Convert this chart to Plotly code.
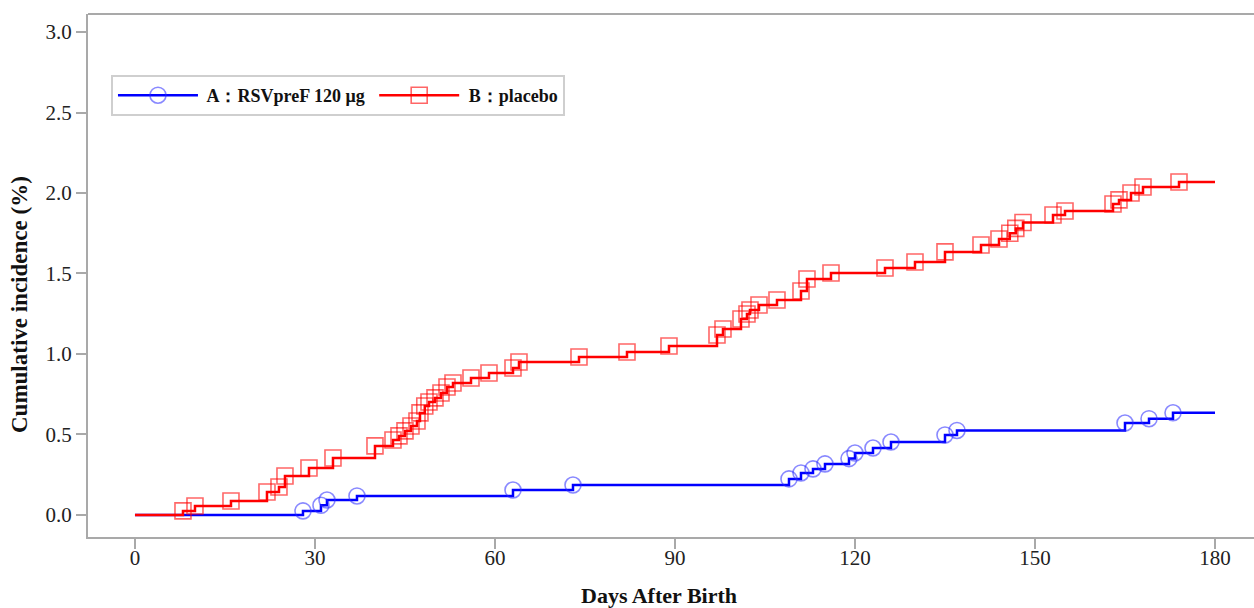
import plotly.graph_objects as go

# Event days and cumulative incidence (%)
a_days = [28, 31, 32, 37, 63, 73, 109, 111, 113, 115, 119, 120, 123, 126, 135, 137, 165, 169, 173]
a_inc = [0.025, 0.060, 0.093, 0.118, 0.155, 0.186, 0.224, 0.261, 0.286, 0.317, 0.350, 0.385,
         0.416, 0.453, 0.497, 0.525, 0.571, 0.598, 0.635]

b_days = [8, 10, 16, 22, 24, 25, 29, 33, 40, 43, 44, 45, 46, 47, 47.5, 48.3, 49, 50, 51, 52, 53,
          56, 59, 63, 64, 74, 82, 89, 97, 98, 101, 102, 102.5, 104, 107, 111, 112, 116, 125, 130,
          135, 141, 144, 145.8, 146.8, 148, 153, 155, 163, 164, 166, 168, 174]
b_inc = [0.025, 0.056, 0.087, 0.143, 0.174, 0.242, 0.292, 0.354, 0.429, 0.466, 0.491, 0.522,
         0.553, 0.584, 0.634, 0.677, 0.702, 0.727, 0.758, 0.795, 0.820, 0.851, 0.882, 0.913,
         0.950, 0.981, 1.012, 1.050, 1.118, 1.155, 1.217, 1.248, 1.273, 1.304, 1.335, 1.391,
         1.466, 1.503, 1.534, 1.571, 1.634, 1.677, 1.714, 1.750, 1.780, 1.817, 1.863, 1.888,
         1.932, 1.957, 2.000, 2.037, 2.068]

end_day = 180
x_ticks = [0, 30, 60, 90, 120, 150, 180]
y_ticks = [0.0, 0.5, 1.0, 1.5, 2.0, 2.5, 3.0]

name_a = " A：RSVpreF 120 μg "
name_b = " B：placebo"

BLUE = "#0000ff"
RED = "#ff0000"
BLUE_M = "rgba(40,40,255,0.55)"
RED_M = "rgba(255,0,0,0.6)"
FONT = "Liberation Serif, Times New Roman, serif"

fig = go.Figure()


def add_group(days, inc, line_col, mark_col, symbol, name):
    xs = [0] + days + [end_day]
    ys = [0] + inc + [inc[-1]]
    fig.add_trace(go.Scatter(x=xs, y=ys, mode="lines", line=dict(color=line_col, width=2.5, shape="hv"),
                             showlegend=False, hoverinfo="skip"))
    fig.add_trace(go.Scatter(x=days, y=inc, mode="markers",
                             marker=dict(symbol=symbol, size=16, color=mark_col, line=dict(width=1.6, color=mark_col)),
                             showlegend=False))
    fig.add_trace(go.Scatter(x=[None], y=[None], mode="lines+markers", name=name,
                             line=dict(color=line_col, width=2.5),
                             marker=dict(symbol=symbol, size=16, color=mark_col, line=dict(width=1.6, color=mark_col))))


add_group(a_days, a_inc, BLUE, BLUE_M, "circle-open", name_a)
add_group(b_days, b_inc, RED, RED_M, "square-open", name_b)

AX = "#a9a9a9"
fig.update_layout(
    width=1254, height=608,
    margin=dict(l=88, r=0, t=14, b=71),
    plot_bgcolor="white", paper_bgcolor="white",
    font=dict(family=FONT, color="#222", size=21),
    showlegend=True,
    legend=dict(orientation="h", x=0.0197, y=0.8834, xanchor="left", yanchor="top",
                bgcolor="white", bordercolor="#cfcfcf", borderwidth=2,
                font=dict(family=FONT, size=18, color="#111", weight="bold"),
                itemwidth=80, traceorder="normal"),
    xaxis=dict(range=[-7.83, 186.5], tickvals=x_ticks, ticks="outside", ticklen=10, tickwidth=2,
               tickcolor=AX, showline=True, linecolor=AX, linewidth=2, showgrid=False, zeroline=False,
               automargin=False, ticklabelstandoff=-9, tickfont=dict(family=FONT, size=21, color="#222")),
    yaxis=dict(range=[-0.137, 3.112], tickvals=y_ticks, tickformat=".1f", ticks="outside", ticklen=10,
               tickwidth=2, tickcolor=AX, showline=True, linecolor=AX, linewidth=2, showgrid=False,
               zeroline=False, automargin=False, tickfont=dict(family=FONT, size=21, color="#222")),
    shapes=[dict(type="line", xref="paper", yref="paper", x0=0, x1=1, y0=1, y1=1,
                 line=dict(color=AX, width=2))],
    annotations=[
        dict(text="<b>Days After Birth</b>", xref="paper", yref="paper", x=0.4897, y=-0.1110,
             xanchor="center", yanchor="middle", showarrow=False,
             font=dict(family=FONT, size=22, color="#111")),
        dict(text="<b>Cumulative incidence (%)</b>", xref="paper", yref="paper", x=-0.0583, y=0.4436,
             xanchor="center", yanchor="middle", showarrow=False, textangle=-90,
             font=dict(family=FONT, size=23, color="#111")),
    ],
)

fig.write_html("out.html", config={"displayModeBar": False},
               post_script="document.body.style.margin='0px';document.body.style.overflow='hidden';")
